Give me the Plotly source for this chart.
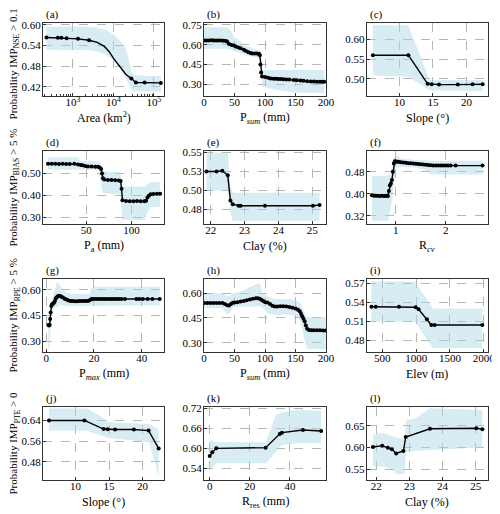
import plotly.graph_objects as go

# ---- data ----
# (a) NSE vs catchment area
area_x = [224, 427, 523, 702, 1344, 2520, 27800, 36000, 59000, 148000]
nse_area = [0.563, 0.562, 0.562, 0.561, 0.559, 0.555, 0.444, 0.432, 0.432, 0.431]
area_curve_x = [4000, 6000, 8000, 10000, 13000, 16000, 20000, 24000]
area_curve_y = [0.549, 0.537, 0.521, 0.503, 0.485, 0.470, 0.457, 0.449]
band_a_x = [224, 500, 1000, 2500, 4000, 6000, 10000, 15000, 20000, 24000, 28000, 32000, 60000, 148000]
band_a_up = [0.595, 0.595, 0.595, 0.594, 0.592, 0.587, 0.572, 0.552, 0.532, 0.500, 0.462, 0.453, 0.452, 0.452]
band_a_lo = [0.527, 0.527, 0.527, 0.526, 0.522, 0.515, 0.497, 0.470, 0.445, 0.427, 0.412, 0.407, 0.406, 0.405]

# (b) NSE vs P_sum
psum_x = [0, 4, 8, 12, 16, 20, 24, 28, 32, 36, 38, 41, 45, 49, 52, 56, 60, 65, 68, 72, 76, 79,
          83, 87, 90, 91.5, 92.5, 93.5, 95, 100, 105, 109, 114, 118, 122, 126, 130, 135, 140,
          147, 152, 158, 163, 169, 175, 180, 185, 190, 194, 197]
nse_psum = [0.632, 0.633, 0.633, 0.634, 0.633, 0.633, 0.632, 0.632, 0.631, 0.629, 0.622, 0.605,
            0.598, 0.594, 0.586, 0.580, 0.574, 0.562, 0.555, 0.546, 0.537, 0.533, 0.533, 0.534,
            0.532, 0.520, 0.450, 0.390, 0.360, 0.355, 0.350, 0.345, 0.343, 0.342, 0.341, 0.340,
            0.339, 0.337, 0.336, 0.333, 0.332, 0.330, 0.327, 0.323, 0.322, 0.321, 0.320, 0.320,
            0.320, 0.320]
band_b_x = [0, 38, 45, 49, 56, 66, 80, 88, 93, 95.6, 120, 147, 197]
band_b_up = [0.733, 0.733, 0.700, 0.660, 0.640, 0.595, 0.575, 0.558, 0.557, 0.408, 0.408, 0.408, 0.408]
band_b_lo = [0.570, 0.570, 0.560, 0.550, 0.545, 0.525, 0.508, 0.500, 0.495, 0.282, 0.258, 0.240, 0.233]

# (c) NSE vs slope
slope_x = [6.05, 11.34, 14.2, 14.8, 15.9, 18.7, 20.9, 22.4]
nse_slope = [0.560, 0.560, 0.487, 0.486, 0.485, 0.485, 0.486, 0.486]
band_c_x = [6.05, 11.34, 14.5, 22.4]
band_c_up = [0.636, 0.636, 0.497, 0.497]
band_c_lo = [0.508, 0.505, 0.470, 0.469]

# (d) BIAS vs P_a
pa_x = [8, 12, 16, 20, 24, 28, 32, 37, 41, 44, 46, 49, 52, 56, 60, 63, 65, 66.5, 67.5, 68.5,
        70, 74, 78, 82, 86, 88, 89, 90, 94, 98, 102, 106, 110, 114, 116, 117.5, 119, 121,
        124, 128, 131.5]
bias_pa = [0.544, 0.544, 0.544, 0.543, 0.544, 0.543, 0.543, 0.544, 0.541, 0.538, 0.537, 0.534,
           0.532, 0.531, 0.530, 0.530, 0.527, 0.520, 0.500, 0.478, 0.472, 0.470, 0.470, 0.469,
           0.468, 0.466, 0.430, 0.378, 0.375, 0.374, 0.373, 0.375, 0.374, 0.374, 0.376, 0.390,
           0.398, 0.405, 0.407, 0.408, 0.408]
band_d_x = [8, 37, 40, 44, 64, 66, 68, 87.5, 89, 90, 115, 117, 121, 131.5]
band_d_up = [0.572, 0.572, 0.576, 0.557, 0.555, 0.530, 0.510, 0.505, 0.470, 0.440, 0.440, 0.450, 0.460, 0.460]
band_d_lo = [0.518, 0.518, 0.520, 0.517, 0.515, 0.460, 0.410, 0.405, 0.330, 0.288, 0.288, 0.320, 0.347, 0.347]

# (e) BIAS vs clay
clay_e = [21.87, 22.17, 22.34, 22.5, 22.58, 22.65, 22.82, 22.88, 23.6, 25.02, 25.22]
bias_clay = [0.525, 0.525, 0.526, 0.520, 0.487, 0.482, 0.480, 0.480, 0.480, 0.480, 0.481]
band_e_x = [21.87, 22.5, 22.58, 22.65, 25.22]
band_e_up = [0.550, 0.550, 0.505, 0.497, 0.497]
band_e_lo = [0.500, 0.500, 0.470, 0.460, 0.460]

# (f) BIAS vs R_cv
rcv_x = [0.52, 0.56, 0.6, 0.64, 0.68, 0.72, 0.76, 0.8, 0.84, 0.86, 0.88, 0.9, 0.92, 0.94, 0.96,
         0.98, 1.0, 1.03, 1.06, 1.1, 1.15, 1.2, 1.25, 1.3, 1.35, 1.4, 1.45, 1.5, 1.55, 1.6, 1.65,
         1.7, 1.75, 1.8, 1.85, 1.9, 1.95, 2.0, 2.05, 2.1, 2.2, 2.74]
bias_rcv = [0.394, 0.393, 0.393, 0.393, 0.392, 0.393, 0.392, 0.392, 0.392, 0.410, 0.430, 0.437,
            0.450, 0.480, 0.510, 0.518, 0.517, 0.516, 0.516, 0.514, 0.513, 0.512, 0.511, 0.511,
            0.510, 0.509, 0.508, 0.507, 0.506, 0.505, 0.504, 0.503, 0.502, 0.502, 0.502, 0.502,
            0.502, 0.502, 0.502, 0.502, 0.502, 0.502]
band_f_x = [0.52, 0.85, 0.9, 0.95, 1.0, 1.1, 1.4, 1.6, 1.7, 2.74]
band_f_up = [0.465, 0.465, 0.480, 0.530, 0.543, 0.528, 0.522, 0.520, 0.520, 0.520]
band_f_lo = [0.302, 0.302, 0.350, 0.430, 0.495, 0.497, 0.495, 0.485, 0.470, 0.470]

# (g) RPE vs P_max
pmax_x = [0.83, 1.1, 1.4, 1.6, 1.8, 2.1, 2.4, 2.8, 3.2, 3.6, 4.0, 4.4, 4.8, 5.3, 5.8, 6.3, 7.0,
          7.7, 8.5, 9.3, 10.2, 11.0, 12.0, 13.0, 14.0, 15.0, 16.0, 17.0, 17.8, 18.5, 19.0, 19.6,
          20.5, 21.5, 22.5, 23.5, 24.5, 25.5, 26.5, 27.5, 28.5, 29.5, 30.5, 31.5, 33.0, 37.8,
          39.0, 40.5, 42.5, 44.5, 47.6]
rpe_pmax = [0.394, 0.392, 0.395, 0.430, 0.467, 0.505, 0.516, 0.518, 0.525, 0.535, 0.550, 0.556,
            0.562, 0.565, 0.564, 0.560, 0.555, 0.548, 0.543, 0.538, 0.535, 0.534, 0.533, 0.533,
            0.534, 0.534, 0.535, 0.535, 0.536, 0.542, 0.546, 0.547, 0.546, 0.546, 0.547, 0.546,
            0.546, 0.546, 0.547, 0.546, 0.546, 0.546, 0.546, 0.546, 0.546, 0.546, 0.546, 0.546,
            0.546, 0.546, 0.546]
band_g_x = [0.83, 1.4, 2.0, 3.0, 4.5, 5.5, 7.0, 9.0, 12, 18, 19, 20, 47.6]
band_g_up = [0.410, 0.420, 0.520, 0.580, 0.645, 0.630, 0.600, 0.580, 0.575, 0.575, 0.610, 0.618, 0.618]
band_g_lo = [0.250, 0.260, 0.440, 0.490, 0.500, 0.510, 0.510, 0.506, 0.506, 0.506, 0.510, 0.510, 0.510]

# (h) RPE vs P_sum
psum2_x = [0, 5, 10, 15, 20, 25, 30, 34, 38, 41, 44, 47, 50, 55, 60, 65, 70, 75, 80, 85, 88, 91,
           94, 97, 100, 104, 108, 112, 116, 120, 125, 130, 135, 140, 145, 150, 154, 157, 159, 161,
           163, 165, 167, 169, 172, 176, 180, 185, 190, 195, 199.5]
rpe_psum = [0.540, 0.540, 0.541, 0.540, 0.540, 0.541, 0.540, 0.535, 0.527, 0.525, 0.535, 0.542,
            0.543, 0.545, 0.550, 0.553, 0.557, 0.562, 0.566, 0.569, 0.570, 0.566, 0.560, 0.553,
            0.545, 0.544, 0.535, 0.524, 0.520, 0.520, 0.521, 0.521, 0.520, 0.516, 0.512, 0.507,
            0.500, 0.490, 0.475, 0.460, 0.445, 0.430, 0.405, 0.385, 0.377, 0.376, 0.376, 0.375,
            0.375, 0.374, 0.374]
band_h_x = [0, 30, 38, 42, 48, 60, 80, 88, 92, 96, 106, 115, 140, 150, 158, 163, 167, 170, 199.5]
band_h_up = [0.600, 0.600, 0.585, 0.585, 0.600, 0.610, 0.645, 0.660, 0.655, 0.600, 0.575, 0.565,
             0.565, 0.560, 0.540, 0.500, 0.460, 0.455, 0.455]
band_h_lo = [0.510, 0.510, 0.470, 0.480, 0.515, 0.520, 0.520, 0.520, 0.520, 0.510, 0.475, 0.470,
             0.470, 0.465, 0.430, 0.350, 0.280, 0.262, 0.260]

# (i) RPE vs elevation
elev_x = [337, 401, 746, 993, 1037, 1160, 1225, 1274, 1980]
rpe_elev = [0.533, 0.533, 0.533, 0.532, 0.529, 0.513, 0.504, 0.504, 0.504]
band_i_x = [337, 980, 1250, 1980]
band_i_up = [0.573, 0.573, 0.530, 0.530]
band_i_lo = [0.509, 0.509, 0.467, 0.467]

# (j) PTE vs slope
pte_slope = [0.640, 0.640, 0.607, 0.606, 0.605, 0.605, 0.601, 0.532]
band_j_x = [6.05, 11.6, 13.5, 15, 19, 21, 22.4]
band_j_up = [0.686, 0.686, 0.660, 0.633, 0.628, 0.626, 0.605]
band_j_lo = [0.601, 0.601, 0.585, 0.572, 0.562, 0.555, 0.425]

# (k) PTE vs R_res
rres_x = [0, 1.3, 3.3, 27.9, 34.9, 36.0, 46.5, 55.6]
pte_rres = [0.577, 0.588, 0.600, 0.602, 0.643, 0.647, 0.655, 0.652]
band_k_x = [0, 3.3, 28, 33, 36, 44, 55.6]
band_k_up = [0.625, 0.618, 0.618, 0.700, 0.708, 0.716, 0.712]
band_k_lo = [0.535, 0.555, 0.555, 0.590, 0.610, 0.615, 0.615]

# (l) PTE vs clay
clay_l = [21.9, 22.18, 22.35, 22.47, 22.6, 22.82, 22.89, 23.62, 25.02, 25.2]
pte_clay = [0.601, 0.604, 0.599, 0.596, 0.586, 0.592, 0.624, 0.643, 0.644, 0.642]
band_l_x = [21.9, 22.2, 22.5, 22.6, 22.85, 22.9, 23.2, 23.6, 25.2]
band_l_up = [0.630, 0.633, 0.625, 0.622, 0.620, 0.663, 0.667, 0.690, 0.686]
band_l_lo = [0.556, 0.556, 0.550, 0.539, 0.539, 0.590, 0.592, 0.594, 0.600]

row_titles = ['Probability IMP<sub>NSE</sub> > 0.1', 'Probability IMP<sub>BIAS</sub> > 5 %',
              'Probability IMP<sub>RPE</sub> > 5 %', 'Probability IMP<sub>PTE</sub> > 0']

# line for (a): markers at the knots, smooth curve in between
a_pts = sorted(zip(area_x + area_curve_x, nse_area + area_curve_y))
a_line_x = [p[0] for p in a_pts]
a_line_y = [p[1] for p in a_pts]

panels = [
    dict(lx=a_line_x, ly=a_line_y, mx=area_x, my=nse_area, bx=band_a_x, up=band_a_up, lo=band_a_lo,
         xt='Area (km<sup>2</sup>)', xlog=True, xr=[2.265, 5.25], yr=[0.393, 0.605],
         xtv=[1e3, 1e4, 1e5], xtt=['10<sup>3</sup>', '10<sup>4</sup>', '10<sup>5</sup>'],
         ytv=[0.42, 0.48, 0.54, 0.60]),
    dict(lx=psum_x, ly=nse_psum, bx=band_b_x, up=band_b_up, lo=band_b_lo,
         xt='P<sub><i>sum</i></sub> (mm)', xr=[0, 200], yr=[0.212, 0.765],
         xtv=[0, 50, 100, 150, 200], ytv=[0.30, 0.45, 0.60, 0.75]),
    dict(lx=slope_x, ly=nse_slope, bx=band_c_x, up=band_c_up, lo=band_c_lo,
         xt='Slope (°)', xr=[5.16, 23.2], yr=[0.456, 0.642],
         xtv=[10, 15, 20], ytv=[0.50, 0.55, 0.60]),
    dict(lx=pa_x, ly=bias_pa, bx=band_d_x, up=band_d_up, lo=band_d_lo,
         xt='P<sub>a</sub> (mm)', xr=[2.5, 135.8], yr=[0.27, 0.602],
         xtv=[50, 100], ytv=[0.30, 0.40, 0.50]),
    dict(lx=clay_e, ly=bias_clay, bx=band_e_x, up=band_e_up, lo=band_e_lo,
         xt='Clay (%)', xr=[21.8, 25.41], yr=[0.456, 0.552],
         xtv=[22, 23, 24, 25], ytv=[0.475, 0.5, 0.525, 0.55],
         ytt=['0.48', '0.50', '0.53', '0.55']),
    dict(lx=rcv_x, ly=bias_rcv, bx=band_f_x, up=band_f_up, lo=band_f_lo,
         xt='R<sub><i>cv</i></sub>', xr=[0.42, 2.85], yr=[0.29, 0.555],
         xtv=[1, 2], ytv=[0.32, 0.40, 0.48]),
    dict(lx=pmax_x, ly=rpe_pmax, bx=band_g_x, up=band_g_up, lo=band_g_lo,
         xt='P<sub><i>max</i></sub> (mm)', xr=[-1.4, 49.4], yr=[0.237, 0.663],
         xtv=[0, 20, 40], ytv=[0.30, 0.45, 0.60]),
    dict(lx=psum2_x, ly=rpe_psum, bx=band_h_x, up=band_h_up, lo=band_h_lo,
         xt='P<sub><i>sum</i></sub> (mm)', xr=[0, 200], yr=[0.244, 0.686],
         xtv=[0, 50, 100, 150, 200], ytv=[0.30, 0.45, 0.60]),
    dict(lx=elev_x, ly=rpe_elev, bx=band_i_x, up=band_i_up, lo=band_i_lo,
         xt='Elev (m)', xr=[272, 2064], yr=[0.461, 0.577],
         xtv=[500, 1000, 1500, 2000], ytv=[0.48, 0.51, 0.54, 0.57]),
    dict(lx=slope_x, ly=pte_slope, bx=band_j_x, up=band_j_up, lo=band_j_lo,
         xt='Slope (°)', xr=[5.16, 23.2], yr=[0.41, 0.692],
         xtv=[10, 15, 20], ytv=[0.48, 0.56, 0.64]),
    dict(lx=rres_x, ly=pte_rres, bx=band_k_x, up=band_k_up, lo=band_k_lo,
         xt='R<sub>res</sub> (mm)', xr=[-2.8, 58], yr=[0.505, 0.724],
         xtv=[0, 20, 40], ytv=[0.54, 0.60, 0.66, 0.72]),
    dict(lx=clay_l, ly=pte_clay, bx=band_l_x, up=band_l_up, lo=band_l_lo,
         xt='Clay (%)', xr=[21.72, 25.37], yr=[0.525, 0.693],
         xtv=[22, 23, 24, 25], ytv=[0.55, 0.60, 0.65]),
]

FONT = 'Times New Roman'
BAND = 'rgba(173,216,230,0.48)'
col_dom = [[0.0, 0.272], [0.362, 0.636], [0.728, 1.0]]
row_dom = [[0.8403, 1.0], [0.5602, 0.7199], [0.2801, 0.4398], [0.0, 0.1597]]

axis_style = dict(showline=True, linecolor='#333333', linewidth=1.3, mirror=True,
                  ticks='inside', ticklen=3, tickcolor='#333333', showgrid=True,
                  gridcolor='#b5b5b5', griddash='dash', gridwidth=0.8, zeroline=False,
                  tickfont=dict(family=FONT, size=11, color='black'), automargin=False)

fig = go.Figure()
annotations = []
layout = {}
for i, p in enumerate(panels):
    n = i + 1
    sfx = '' if n == 1 else str(n)
    xa, ya = 'x' + sfx, 'y' + sfx
    r, c = divmod(i, 3)

    # uncertainty band
    fig.add_trace(go.Scatter(x=p['bx'], y=p['up'], mode='lines', line=dict(width=0),
                             hoverinfo='skip', showlegend=False, xaxis=xa, yaxis=ya))
    fig.add_trace(go.Scatter(x=p['bx'], y=p['lo'], mode='lines', line=dict(width=0),
                             fill='tonexty', fillcolor=BAND, hoverinfo='skip',
                             showlegend=False, xaxis=xa, yaxis=ya))
    # main line
    fig.add_trace(go.Scatter(x=p['lx'], y=p['ly'], mode='lines', line=dict(color='black', width=1.4),
                             showlegend=False, xaxis=xa, yaxis=ya))
    fig.add_trace(go.Scatter(x=p.get('mx', p['lx']), y=p.get('my', p['ly']), mode='markers',
                             marker=dict(color='black', size=4), showlegend=False,
                             xaxis=xa, yaxis=ya))

    xaxis = dict(axis_style, domain=col_dom[c], anchor=ya, range=p['xr'],
                 tickvals=p['xtv'], ticklabelstandoff=-4)
    if p.get('xlog'):
        xaxis.update(type='log', ticktext=p['xtt'],
                     minor=dict(ticks='inside', ticklen=2, tickcolor='#333333', showgrid=False,
                                tickvals=[m * 10 ** e for e in range(2, 6) for m in range(2, 10)]))
    yaxis = dict(axis_style, domain=row_dom[r], anchor=xa, range=p['yr'],
                 tickvals=p['ytv'], tickformat='.2f', ticklabelstandoff=-1)
    if 'ytt' in p:
        yaxis['ticktext'] = p['ytt']
    layout['xaxis' + sfx] = xaxis
    layout['yaxis' + sfx] = yaxis

    annotations.append(dict(text=p['xt'], xref=xa + ' domain', yref=ya + ' domain', x=0.5, y=0,
                            yshift=-22, yanchor='middle', showarrow=False,
                            font=dict(family=FONT, size=12, color='black')))
    annotations.append(dict(text='(' + 'abcdefghijkl'[i] + ')', xref=xa + ' domain',
                            yref=ya + ' domain', x=0, y=1, xshift=1, yshift=0,
                            xanchor='left', yanchor='bottom', showarrow=False,
                            font=dict(family=FONT, size=11, color='black')))
    if c == 0:
        annotations.append(dict(text=row_titles[r], xref='paper', yref=ya + ' domain',
                                x=0, xshift=-29, y=0.5, yshift=-5 if r == 0 else 0,
                                textangle=-90, xanchor='center', yanchor='middle',
                                showarrow=False, borderpad=0,
                                font=dict(family=FONT, size=11, color='black')))

fig.update_layout(**layout)
# the page adds an 8 px body margin, so the figure is 8 px smaller than the window
fig.update_layout(width=492, height=506, margin=dict(l=35, r=12, t=15, b=34),
                  plot_bgcolor='white', paper_bgcolor='white', annotations=annotations,
                  font=dict(family=FONT, color='black'))

fig.write_html('out.html')
